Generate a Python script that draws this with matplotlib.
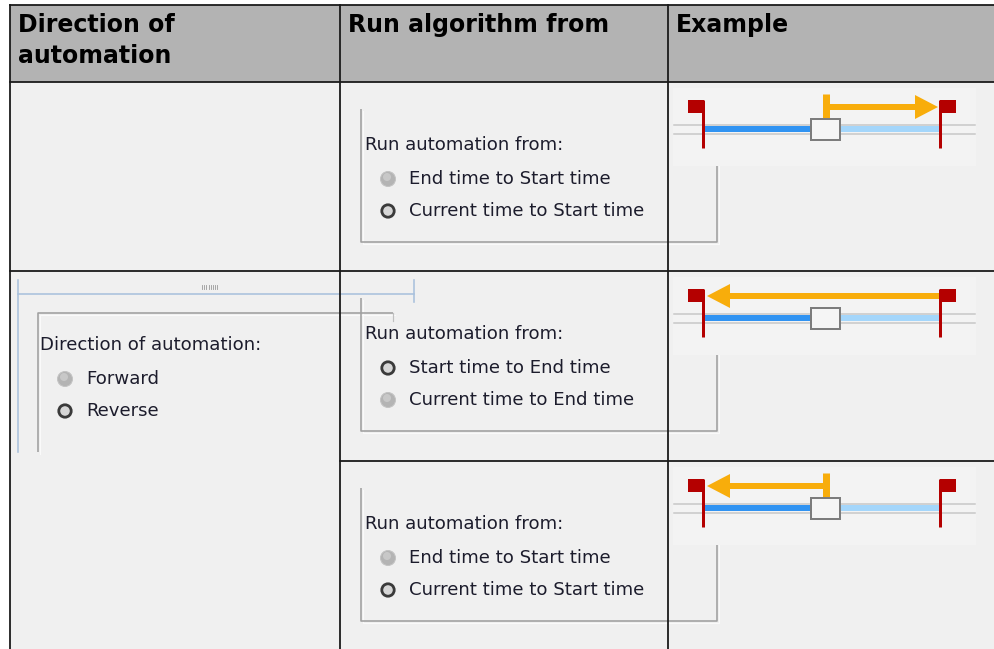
import numpy as np
import matplotlib
matplotlib.use("Agg")
import matplotlib.pyplot as plt
from matplotlib.patches import Rectangle, Circle, Polygon

# ---- table content ----
headers = ["Direction of\nautomation", "Run algorithm from", "Example"]
direction_label = "Direction of automation:"
direction_options = ["Forward", "Reverse"]
direction_selected = 1
run_label = "Run automation from:"
run_options = [
    ["End time to Start time", "Current time to Start time"],
    ["Start time to End time", "Current time to End time"],
    ["End time to Start time", "Current time to Start time"],
]
run_selected = [1, 0, 1]
# arrow from -> to, on the example timeline
arrow_from = ["current", "end", "current"]
arrow_to = ["end", "start", "start"]

# ---- layout (pixels) ----
W, H = 994, 649
col_x = [10, 340, 668]
header_top, header_bot = 5, 82
row_tops = [82, 271, 461]
timeline_x = {"start": 705, "current": 826, "end": 940}

fig = plt.figure(figsize=(W / 100, H / 100), dpi=100)
ax = fig.add_axes([0, 0, 1, 1])
ax.set_xlim(0, W)
ax.set_ylim(H, 0)
ax.axis("off")
fig.patch.set_facecolor("white")

px = 0.72  # points per pixel
txt_col = "#1c1c2c"
ui_font = 13.05

# cell background + header
ax.add_patch(Rectangle((col_x[0], header_bot), W - col_x[0], H - header_bot,
                       facecolor="#f0f0f0", edgecolor="none"))
ax.add_patch(Rectangle((col_x[0], header_top), W - col_x[0], header_bot - header_top,
                       facecolor="#b3b3b3", edgecolor="none"))
for x, h in zip(col_x, headers):
    ax.text(x + 8, header_top + 8, h, ha="left", va="top", fontsize=17,
            fontweight="bold", color="black", linespacing=1.36)


def radio(x, y, on):
    if on:
        ax.add_patch(Circle((x, y), 6.2, facecolor="#d6d6d6", edgecolor="#3a3a3a",
                            lw=2.8 * px, zorder=4))
    else:
        ax.add_patch(Circle((x, y), 7.5, facecolor="#b4b4b4", edgecolor="#c4c4c4",
                            lw=1 * px, zorder=4))
        ax.add_patch(Circle((x - 1, y - 2), 4, facecolor="#c8c8c8", edgecolor="none",
                            zorder=4))


def box_line(xs, ys):
    ax.plot(xs, ys, color="#a0a0a0", lw=1.6 * px, zorder=3, solid_capstyle="butt")
    ax.plot(np.array(xs) + 1.5, np.array(ys) + 1.5, color="#fafafa", lw=1 * px, zorder=2)


# ---- column 1: direction panel (rows 2-3 merged) ----
top = row_tops[1]
blue = "#a9c1dd"
ax.plot([18, 18], [top + 9, top + 181], color=blue, lw=1.6 * px, zorder=3)
ax.plot([18, 414], [top + 23, top + 23], color=blue, lw=1.6 * px, zorder=3)
ax.plot([414, 414], [top + 9, top + 31], color=blue, lw=1.6 * px, zorder=3)
for gx in 202 + 2.2 * np.arange(8):
    ax.plot([gx, gx], [top + 14, top + 18], color="#9a9a9a", lw=0.6, zorder=3)
box_line([38, 38, 393], [top + 181, top + 42, top + 42])
ax.plot([393, 393], [top + 42, top + 50], color="#c0c0c0", lw=1.2 * px, zorder=3)
ax.text(40, top + 74, direction_label, fontsize=ui_font, color=txt_col, va="center")
for i, opt in enumerate(direction_options):
    yy = top + 108 + 32 * i
    radio(65, yy, i == direction_selected)
    ax.text(86, yy, opt, fontsize=ui_font, color=txt_col, va="center")

# ---- column 2: run-from panels ----
for r, top in enumerate(row_tops):
    box_line([361, 361, 717, 717], [top + 27, top + 160, top + 160, top + 78])
    ax.text(365, top + 63, run_label, fontsize=ui_font, color=txt_col, va="center")
    for i, opt in enumerate(run_options[r]):
        yy = top + 97 + 32 * i
        radio(388, yy, i == run_selected[r])
        ax.text(409, yy, opt, fontsize=ui_font, color=txt_col, va="center")

# ---- column 3: timeline examples ----
orange = "#f8ad0b"
red = "#b40000"
for r, top in enumerate(row_tops):
    ft = top + 18          # flag top
    ty = ft + 29           # track y
    xs, xc, xe = timeline_x["start"], timeline_x["current"], timeline_x["end"]
    ax.add_patch(Rectangle((673, ft - 12), 303, 78, facecolor="#f3f3f3",
                           edgecolor="none", zorder=3))
    for dy in (-4.5, 4.5):
        ax.plot([674, 975], [ty + dy, ty + dy], color="#c6c6c6", lw=1.5 * px, zorder=4)
    ax.plot([xs, xc], [ty, ty], color="#3093f2", lw=6 * px, zorder=5, solid_capstyle="butt")
    ax.plot([xc, xe], [ty, ty], color="#a4d6fb", lw=6 * px, zorder=5, solid_capstyle="butt")
    ax.add_patch(Rectangle((xc - 15, ty - 10), 29, 21, facecolor="#f5f5f5",
                           edgecolor="#7c7c7c", lw=2 * px, zorder=6))
    # flags
    for fx, side in ((xs - 2, -1), (xe, 1)):
        ax.plot([fx, fx], [ft, ft + 48], color=red, lw=3 * px, zorder=6, solid_capstyle="butt")
        x0 = fx if side > 0 else fx - 15
        ax.add_patch(Rectangle((x0, ft), 16, 13, facecolor=red, edgecolor="none", zorder=6))
    # orange arrow
    a0 = timeline_x[arrow_from[r]]
    a1 = timeline_x[arrow_to[r]]
    ay = ft + 7
    d = 1 if a1 > a0 else -1
    tip = a1 - 2 * d if d > 0 else a1 + 2
    base = tip - 23 * d
    if arrow_from[r] == "current":
        ax.plot([a0, a0], [ay - 13, ty - 10], color=orange, lw=7 * px, zorder=5,
                solid_capstyle="butt")
    ax.plot([a0 - 3 * d if arrow_from[r] == "current" else a0, base], [ay, ay],
            color=orange, lw=6 * px, zorder=5, solid_capstyle="butt")
    ax.add_patch(Polygon([[base, ay - 12], [tip, ay], [base, ay + 12]], closed=True,
                         facecolor=orange, edgecolor="none", zorder=5))

# ---- table grid ----
lc = "#1a1a1a"
lw = 1.8 * px
ax.plot([col_x[0], W], [header_top, header_top], color=lc, lw=lw, zorder=10)
ax.plot([col_x[0], W], [header_bot, header_bot], color=lc, lw=lw, zorder=10)
ax.plot([col_x[0], W], [row_tops[1], row_tops[1]], color=lc, lw=lw, zorder=10)
ax.plot([col_x[1], W], [row_tops[2], row_tops[2]], color=lc, lw=lw, zorder=10)
for x in col_x:
    ax.plot([x, x], [header_top, H], color=lc, lw=lw, zorder=10)

fig.savefig("out.png", dpi=100)
